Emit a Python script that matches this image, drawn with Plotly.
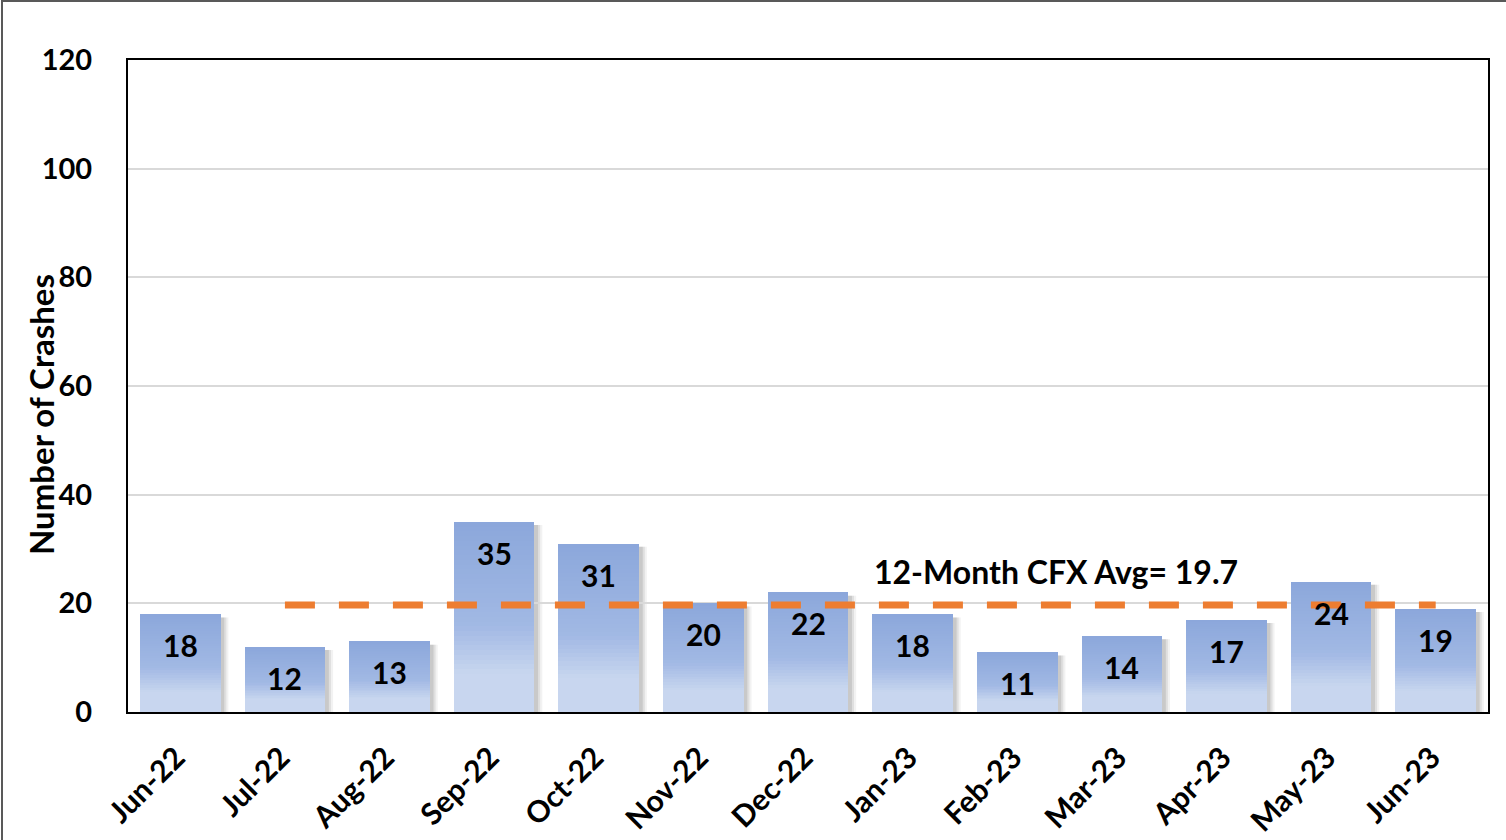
import plotly.graph_objects as go

months = ["Jun-22", "Jul-22", "Aug-22", "Sep-22", "Oct-22", "Nov-22", "Dec-22",
          "Jan-23", "Feb-23", "Mar-23", "Apr-23", "May-23", "Jun-23"]
crashes = [18, 12, 13, 35, 31, 20, 22, 18, 11, 14, 17, 24, 19]
avg_months = months[1:]
avg_value = 19.7
avg_label = "12-Month CFX Avg= 19.7"
y_ticks = [0, 20, 40, 60, 80, 100, 120]

FONT = "Lato"
W, H = 1506, 840
PL, PR, PT, PB = 128, 1488, 60, 712  # plot area in pixels
ML, MR, MT, MB = PL, W - PR, PT, H - PB
pw, ph = PR - PL, PB - PT

def lerp(c1, c2, t):
    return tuple(round(a + (b - a) * t) for a, b in zip(c1, c2))

top_c = (0x8B, 0xA7, 0xDB)
mid_c = (0xA2, 0xB9, 0xE4)
bot_c = (0xC8, 0xD6, 0xEF)

fig = go.Figure()
BW = 0.77

N = 40
for k in range(N):
    t = (k + 0.5) / N  # 0 bottom -> 1 top
    if t < 0.45:
        c = bot_c if t < 0.2 else lerp(bot_c, mid_c, (t - 0.2) / 0.25)
    else:
        c = lerp(mid_c, top_c, (t - 0.45) / 0.55)
    fig.add_trace(go.Bar(x=months, y=[v / N for v in crashes],
                         marker=dict(color="rgb(%d,%d,%d)" % c, line_width=0),
                         width=BW, hoverinfo="skip", showlegend=False))

# soft shadows to the right of each bar
for i, v in enumerate(crashes):
    for dx, op in [(0.075, 0.08), (0.055, 0.12), (0.035, 0.16)]:
        fig.add_shape(type="rect", xref="x", yref="y", layer="below",
                      x0=i - BW / 2 + dx, x1=i + BW / 2 + dx, y0=0, y1=v - 0.6,
                      line_width=0, fillcolor="rgba(90,90,90,%.2f)" % op)

fig.add_trace(go.Scatter(x=avg_months, y=[avg_value] * len(avg_months), mode="lines",
                         line=dict(color="#ED7D31", width=7, dash="30px,24px"),
                         hoverinfo="skip", showlegend=False))

for m, v in zip(months, crashes):
    fig.add_annotation(x=m, y=v, text=str(v), showarrow=False, xanchor="center", yanchor="middle",
                       yshift=-31, font=dict(family=FONT, size=30, color="black", weight="bold"))

fig.add_annotation(xref="paper", yref="y", x=(1056 - PL) / pw, y=avg_value,
                   text=avg_label, showarrow=False, xanchor="center", yanchor="bottom", yshift=12,
                   font=dict(family=FONT, size=32, color="black", weight="bold"))

fig.add_annotation(xref="paper", yref="paper", x=(41 - PL) / pw,
                   y=(PB - 415) / ph, text="Number of Crashes", textangle=-90,
                   xanchor="center", yanchor="middle",
                   showarrow=False, font=dict(family=FONT, size=33, color="black", weight="bold"))

fig.add_shape(type="rect", xref="paper", yref="paper",
              x0=(2 - PL) / pw, x1=(W + 20 - PL) / pw,
              y0=(PB - H - 20) / ph, y1=(PB - 1) / ph,
              line=dict(color="#595959", width=2), layer="below")

fig.update_layout(
    width=W, height=H, margin=dict(l=ML, r=MR, t=MT, b=MB, autoexpand=False),
    paper_bgcolor="white", plot_bgcolor="white", barmode="stack", bargap=1 - BW,
    xaxis=dict(type="category", categoryorder="array", categoryarray=months, automargin=False,
               tickangle=-45, showline=True, linecolor="black", linewidth=2, mirror=True,
               showgrid=False, ticks="", ticklabelstandoff=14, ticklabelshift=-4,
               tickfont=dict(family=FONT, size=30, color="black", weight="bold")),
    yaxis=dict(range=[0, 120], tickvals=y_ticks, showline=True, linecolor="black", linewidth=2,
               automargin=False, mirror=True, showgrid=True, gridcolor="#D9D9D9", gridwidth=1.5,
               zeroline=False, ticks="", ticklabelstandoff=28,
               tickfont=dict(family=FONT, size=29, color="black", weight="bold")),
)

fig.write_html("out.html", config={"displayModeBar": False},
               post_script="document.body.style.margin='0px';")
